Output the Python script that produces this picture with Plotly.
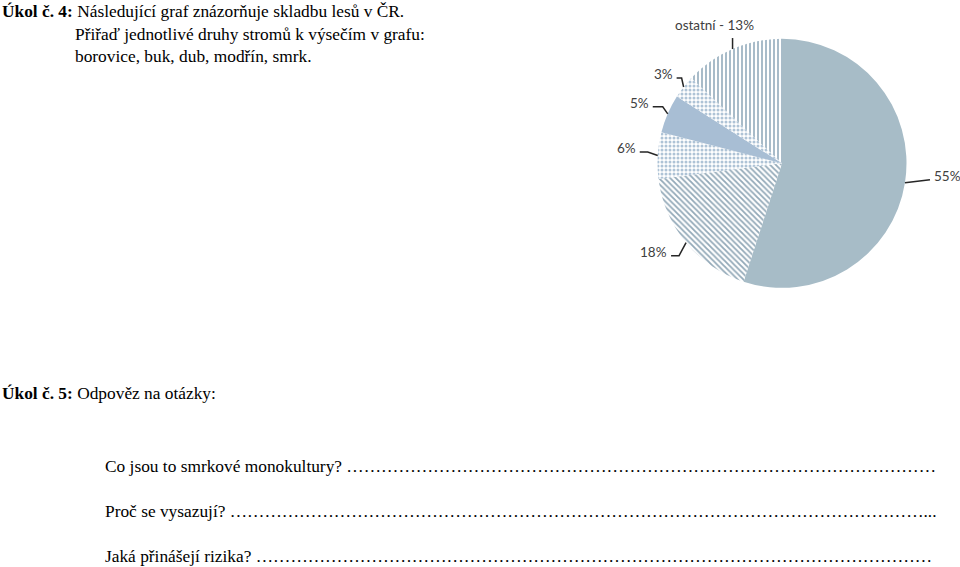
import math
import plotly.graph_objects as go

# ---------------- data ----------------
categories = ["1", "2", "3", "4", "5", "ostatní"]
shares = [55, 18, 6, 5, 3, 13]
label_texts = ["55%", "18%", "6%", "5%", "3%", "ostatní - 13%"]

title_lines = [
    "<b>Úkol č. 4:</b> Následující graf znázorňuje skladbu lesů v ČR.",
    "Přiřaď jednotlivé druhy stromů k výsečím v grafu:",
    "borovice, buk, dub, modřín, smrk.",
]
task5_title = "<b>Úkol č. 5:</b> Odpověz na otázky:"
questions = [
    "Co jsou to smrkové monokultury? " + "…" * 34,
    "Proč se vysazují? " + "…" * 40 + "...",
    "Jaká přinášejí rizika? " + "…" * 39,
]

# ---------------- style / layout ----------------
W, H = 960, 567
cx, cy, R = 782.0, 163.3, 124.5

def px(x):
    return x / W

def py(y):
    return 1 - y / H

slice_colors = ["#a7bcc7", "white", "white", "#a8bed4", "white", "white"]
pattern_shapes = ["", "\\", ".", "", ".", "|"]
pattern_fg = ["#a7bcc7", "#93a9b8", "#aec3d6", "#a8bed4", "#aec3d6", "#98afbf"]
pattern_size = [4, 4, 4, 4, 4, 4]
pattern_solid = [0.5, 0.45, 0.45, 0.5, 0.45, 0.42]

fig = go.Figure()
fig.add_trace(go.Pie(
    labels=categories,
    values=shares,
    sort=False,
    direction="clockwise",
    rotation=0,
    textinfo="none",
    hoverinfo="label+percent",
    showlegend=False,
    marker=dict(
        colors=slice_colors,
        line=dict(width=0),
        pattern=dict(shape=pattern_shapes, fgcolor=pattern_fg,
                     size=pattern_size, solidity=pattern_solid,
                     fillmode="replace"),
    ),
    domain=dict(x=[(cx - R) / W, (cx + R) / W],
                y=[1 - (cy + R) / H, 1 - (cy - R) / H]),
))

# leader line geometry (style): elbow offset from anchor, horizontal tail
elbow_off = [(25, -3), (-7, 13), (-10, -3.5), (-5, -7), (-2, -9), (0, -11)]
tail = [0, -8, -8, -10, -5, 0]
label_side = ["left", "right", "right", "right", "right", "center"]

total = float(sum(shares))
start = 0.0
shapes = []
annotations = []
label_font = dict(family="Lato, 'Open Sans', sans-serif", size=13.5, color="#404040")
for i, v in enumerate(shares):
    a0 = start
    a1 = start + v / total * 360.0
    start = a1
    mid = math.radians((a0 + a1) / 2)
    ax_ = cx + R * math.sin(mid)
    ay_ = cy - R * math.cos(mid)
    ex = ax_ + elbow_off[i][0]
    ey = ay_ + elbow_off[i][1]
    tx = ex + tail[i]
    path = f"M {px(ax_)} {py(ay_)} L {px(ex)} {py(ey)} L {px(tx)} {py(ey)}"
    shapes.append(dict(type="path", xref="paper", yref="paper", path=path,
                       line=dict(color="#262626", width=1.5)))
    if label_side[i] == "left":
        annotations.append(dict(x=px(tx + 2), y=py(ey - 4), xanchor="left", yanchor="middle",
                                text=label_texts[i], showarrow=False, font=label_font))
    elif label_side[i] == "right":
        annotations.append(dict(x=px(tx - 2), y=py(ey - 4), xanchor="right", yanchor="middle",
                                text=label_texts[i], showarrow=False, font=label_font))
    else:
        annotations.append(dict(x=px(ex - 18), y=py(ey - 3), xanchor="center", yanchor="bottom",
                                text=label_texts[i], showarrow=False, font=label_font))

serif = dict(family="'Liberation Serif', 'Times New Roman', serif", size=17.35, color="black")
title_pos = [(0, 11.5), (73, 34.5), (73, 56.5)]
for (x, y), t in zip(title_pos, title_lines):
    annotations.append(dict(x=px(x), y=py(y), xanchor="left", yanchor="middle",
                            text=t, showarrow=False, font=serif))
annotations.append(dict(x=px(0), y=py(393), xanchor="left", yanchor="middle",
                        text=task5_title, showarrow=False, font=serif))
for y, q in zip([466.5, 511.5, 556], questions):
    annotations.append(dict(x=px(103), y=py(y), xanchor="left", yanchor="middle",
                            text=q, showarrow=False, font=serif))

fig.update_layout(
    width=W, height=H,
    margin=dict(l=0, r=0, t=0, b=0),
    paper_bgcolor="white",
    plot_bgcolor="white",
    shapes=shapes,
    annotations=annotations,
)

fig.write_html("out.html")
